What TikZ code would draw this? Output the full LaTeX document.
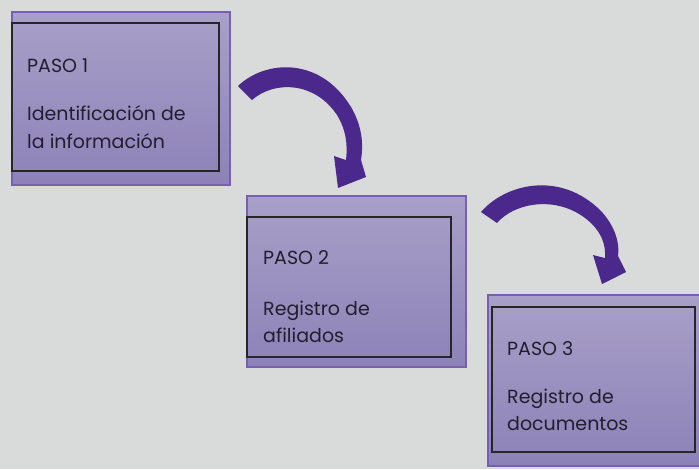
\documentclass[tikz,border=0pt]{standalone}
\usepackage{fontspec}
\setmainfont{Poppins}
\definecolor{bg}{RGB}{217,219,218}
\definecolor{boxtop}{RGB}{168,160,200}
\definecolor{boxbot}{RGB}{140,130,184}
\definecolor{boxedge}{RGB}{120,96,176}
\definecolor{arrowc}{RGB}{74,40,140}
\definecolor{txt}{RGB}{35,30,45}
\begin{document}
\begin{tikzpicture}[x=1pt,y=-1pt,
  outerbox/.style={draw=boxedge,line width=1.2pt,top color=boxtop,bottom color=boxbot},
  innerbox/.style={draw=black!85,line width=1.1pt},
  lbl/.style={anchor=base west,inner sep=0pt,text=txt,font=\fontsize{19}{22}\selectfont},
  bigarrow/.style={fill=arrowc,draw=none}]
\fill[bg] (0,0) rectangle (699,469);
\useasboundingbox (0,0) rectangle (699,469);
% box 1
\fill[black!15] (14,14) rectangle (232,187);
\path[outerbox] (12,12) rectangle (230,185);
\draw[innerbox] (12,23) rectangle (219,171);
\node[lbl] (p1) at (27,72) {PASO 1};
\node[lbl] (d1a) at (27,120) {Identificación de};
\node[lbl] (d1b) at (27,148) {la información};
% box 2
\fill[black!15] (249,198) rectangle (468,369);
\path[outerbox] (247,196) rectangle (466,367);
\draw[innerbox] (247,217) rectangle (451,357);
\node[lbl] (p2) at (263,264) {PASO 2};
\node[lbl] (d2a) at (263,315) {Registro de};
\node[lbl] (d2b) at (263,342) {afiliados};
% box 3
\fill[black!15] (490,297) rectangle (699,468);
\path[outerbox] (488,295) rectangle (701,466);
\draw[innerbox] (492,307) rectangle (695,452);
\node[lbl] (p3) at (507,355) {PASO 3};
\node[lbl] (d3a) at (507,403) {Registro de};
\node[lbl] (d3b) at (507,430) {documentos};
% arrow 1
\fill[bigarrow] (238,86) .. controls (265,60) and (320,56) .. (351,107)
  .. controls (361,124) and (364,142) .. (361,160) -- (366,177) -- (338,188)
  -- (334,156) -- (346,160) .. controls (348,142) and (345,128) .. (337,115)
  .. controls (315,82) and (275,80) .. (252,100) -- cycle;
% arrow 2
\fill[bigarrow] (481,212) .. controls (505,184) and (560,170) .. (601,211)
  .. controls (613,224) and (620,240) .. (618,256) -- (626,272) -- (602,284)
  -- (593,255) -- (605,258) .. controls (606,244) and (601,233) .. (591,223)
  .. controls (560,194) and (515,202) .. (497,223) -- cycle;
\end{tikzpicture}
\end{document}
